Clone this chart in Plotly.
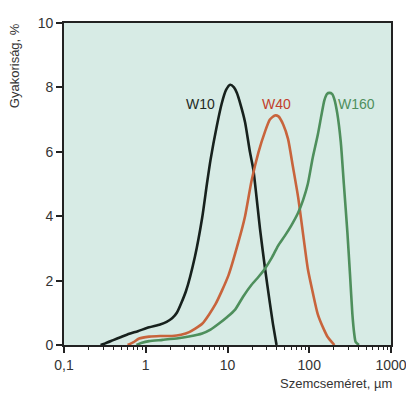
import math
import plotly.graph_objects as go

# Data (particle size µm, frequency %)
w10_x = [0.28, 0.32, 0.4, 0.5, 0.63, 0.8, 1.1, 1.5, 1.8, 2.1, 2.4, 3.1, 4.0, 4.9, 5.6, 6.2, 7.4, 8.5, 9.6, 10.8, 12, 13, 14.5, 16.4, 18.8, 20.7, 25, 28.7, 33, 36, 39.8]
w10_y = [0, 0.05, 0.15, 0.25, 0.35, 0.43, 0.55, 0.64, 0.72, 0.83, 1.0, 1.67, 2.75, 3.95, 5.0, 5.75, 6.8, 7.5, 7.92, 8.08, 8.0, 7.83, 7.45, 6.92, 6.0, 5.45, 3.6, 2.4, 1.3, 0.65, 0]

w40_x = [0.6, 0.7, 0.83, 1.1, 1.5, 2.1, 2.7, 3.4, 4.9, 7.1, 10.3, 13.6, 16.4, 19.7, 24, 28.7, 33, 38, 42, 48, 55, 63, 73, 85, 96, 110, 127, 150, 168, 203]
w40_y = [0, 0.08, 0.2, 0.26, 0.28, 0.28, 0.32, 0.4, 0.66, 1.26, 2.17, 3.2, 4.0, 5.1, 6.0, 6.62, 7.0, 7.13, 7.1, 6.85, 6.4, 5.55, 4.6, 3.35, 2.37, 1.65, 0.96, 0.5, 0.25, 0]

w160_x = [0.77, 0.9, 1.1, 1.6, 2.5, 3.5, 4.9, 6.2, 7.8, 10, 12.4, 15.5, 19.7, 24, 28.7, 35, 41.5, 50, 60, 72.6, 84, 96, 110, 127, 140, 153, 165, 176, 190, 203, 220, 243, 265, 293, 315, 337, 355, 369, 405]
w160_y = [0, 0.07, 0.12, 0.16, 0.21, 0.27, 0.36, 0.48, 0.66, 0.88, 1.1, 1.5, 1.87, 2.12, 2.37, 2.72, 3.08, 3.38, 3.7, 4.09, 4.5, 5.0, 5.8, 6.52, 7.1, 7.6, 7.8, 7.83, 7.8, 7.63, 7.2, 6.31, 5.0, 3.48, 2.2, 0.96, 0.35, 0.1, 0]

series_names = ["W10", "W40", "W160"]
label_x = [4.67, 39.3, 377]
label_y = [7.48, 7.48, 7.48]

x_tickvals = [0.1, 1, 10, 100, 1000]
x_ticktext = ["0,1", "1", "10", "100", "1000"]
y_tickvals = [0, 2, 4, 6, 8, 10]

line_colors = ["#17211d", "#c8643c", "#4e8f5c"]
label_colors = ["#1e2a26", "#c23f2c", "#4e8f5c"]

FONT = "Liberation Sans, Arial, sans-serif"

fig = go.Figure()
for xs, ys, name, col in zip([w10_x, w40_x, w160_x], [w10_y, w40_y, w160_y], series_names, line_colors):
    fig.add_trace(go.Scatter(x=xs, y=ys, mode="lines", name=name,
                             line=dict(color=col, width=2.6, shape="spline", smoothing=0.6)))

for name, lx, ly, col in zip(series_names, label_x, label_y, label_colors):
    fig.add_annotation(x=math.log10(lx), y=ly, xref="x", yref="y", text=name, showarrow=False,
                       font=dict(family=FONT, size=14, color=col), xanchor="center", yanchor="middle")

minor_vals = [m * 10 ** e for e in range(-1, 3) for m in range(2, 10)]

# The page body has an 8px margin, so the figure is 8px smaller and margins shifted.
fig.update_layout(
    width=406, height=390,
    margin=dict(l=56, r=20, t=7, b=53),
    paper_bgcolor="white",
    plot_bgcolor="#d7ebe5",
    showlegend=False,
    font=dict(family=FONT, size=14, color="#333333"),
    xaxis=dict(type="log", range=[-1, 3], tickvals=x_tickvals, ticktext=x_ticktext,
               ticks="outside", ticklen=6, tickwidth=1.5, tickcolor="#222",
               showline=True, linecolor="#222", linewidth=1.8, mirror=True,
               showgrid=False, zeroline=False,
               tickfont=dict(family=FONT, size=14, color="#333"),
               minor=dict(tickmode="array", tickvals=minor_vals, ticks="outside",
                          ticklen=3, tickwidth=1, tickcolor="#222", showgrid=False)),
    yaxis=dict(range=[0, 10], tickvals=y_tickvals, ticks="outside", ticklen=6,
               tickwidth=1.5, tickcolor="#222",
               showline=True, linecolor="#222", linewidth=1.8, mirror=True,
               showgrid=False, zeroline=False,
               tickfont=dict(family=FONT, size=14, color="#333")),
)

fig.add_annotation(x=1.01, y=-0.09, xref="paper", yref="paper", text="Szemcseméret, µm",
                   showarrow=False, xanchor="right", yanchor="top",
                   font=dict(family=FONT, size=13, color="#333"))
fig.add_annotation(x=-0.12, y=1.005, xref="paper", yref="paper", text="Gyakoriság, %",
                   showarrow=False, textangle=-90, xanchor="right", yanchor="top",
                   font=dict(family=FONT, size=13, color="#333"))

fig.write_html("out.html")
